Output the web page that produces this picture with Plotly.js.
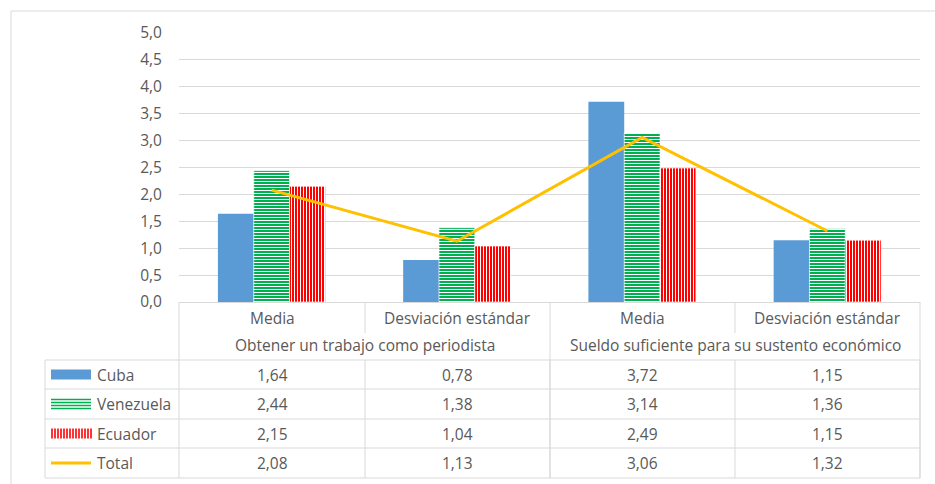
<!DOCTYPE html>
<html>
<head>
<meta charset="utf-8">
<script src="https://cdn.plot.ly/plotly-3.0.1.min.js"></script>
<style>html,body{margin:0;padding:0;background:#fff;}#chart{width:935px;height:484px;}</style>
</head>
<body>
<div id="chart"></div>
<script>
// ---- data ----
const categories = ["Media", "Desviación estándar", "Media", "Desviación estándar"];
const groups = ["Obtener un trabajo como periodista", "Sueldo suficiente para su sustento económico"];
const seriesNames = ["Cuba", "Venezuela", "Ecuador", "Total"];
const cuba = [1.64, 0.78, 3.72, 1.15];
const venezuela = [2.44, 1.38, 3.14, 1.36];
const ecuador = [2.15, 1.04, 2.49, 1.15];
const total = [2.08, 1.13, 3.06, 1.32];
const yTicks = [0, 0.5, 1, 1.5, 2, 2.5, 3, 3.5, 4, 4.5, 5];

// ---- layout geometry (pixels) ----
const W = 935, H = 484;
const L = 179, R = 920, T = 33, B = 302;
const px = x => (x - L) / (R - L);
const py = y => (B - y) / (B - T);
const FONT = "Open Sans, Liberation Sans, sans-serif";
const FS = 15.5;
const TXT = "#595959";
const GRID = "#d9d9d9";
const GREEN = "#00B050";
const RED = "#FF0000";

const xs = categories.map((c, i) => i);
const fmt = v => v.toFixed(2).replace('.', ',');

const traces = [
  {type: "bar", name: seriesNames[0], x: xs, y: cuba,
   marker: {color: "#5B9BD5", line: {width: 0}}},
  {type: "bar", name: seriesNames[1], x: xs, y: venezuela,
   marker: {color: GREEN, line: {width: 0.6, color: "#ffffff"},
            pattern: {shape: "-", fgcolor: "#ffffff", bgcolor: GREEN, fillmode: "replace", size: 3, solidity: 0.35}}},
  {type: "bar", name: seriesNames[2], x: xs, y: ecuador,
   marker: {color: RED, line: {width: 0.6, color: "#ffffff"},
            pattern: {shape: "|", fgcolor: "#ffffff", bgcolor: RED, fillmode: "replace", size: 3, solidity: 0.35}}},
  {type: "scatter", mode: "lines", name: seriesNames[3], x: xs, y: total,
   line: {color: "#FFC000", width: 3}}
];

const shapes = [];
const annotations = [];
const line = (x0, y0, x1, y1, color, w) => shapes.push({type: "line", xref: "paper", yref: "paper",
  x0: px(x0), y0: py(y0), x1: px(x1), y1: py(y1), line: {color: color || GRID, width: w || 1}});
const text = (x, y, s, anchor) => annotations.push({xref: "paper", yref: "paper", x: px(x), y: py(y),
  text: s, showarrow: false, xanchor: anchor || "center", yanchor: "middle",
  font: {family: FONT, size: FS, color: TXT}});

// outer chart border
line(11, 11, 935, 11, GRID);
line(11, 11, 11, 484, GRID);

// table geometry
const colX = [179, 365, 550, 735, 920];
const rowY = [360, 389, 419, 448, 478];
const tableLeft = 45;

// header
line(179, 302, 179, 360);
line(920, 302, 920, 478);
line(365, 302, 365, 333);
line(735, 302, 735, 333);
line(550, 302, 550, 478);
categories.forEach((c, i) => text((colX[i] + colX[i + 1]) / 2, 318, c));
groups.forEach((g, i) => text((colX[2 * i] + colX[2 * i + 2]) / 2, 345, g));

// rows
rowY.forEach(y => line(tableLeft, y, 920, y));
line(tableLeft, 360, tableLeft, 478);
colX.forEach(x => line(x, 360, x, 478));

const rowsData = [cuba, venezuela, ecuador, total];
rowsData.forEach((arr, r) => {
  const cy = (rowY[r] + rowY[r + 1]) / 2;
  text(95, cy, seriesNames[r], "left");
  arr.forEach((v, i) => text((colX[i] + colX[i + 1]) / 2, cy, fmt(v)));
});

// legend keys
const kx0 = 51, kx1 = 91;
{
  const cy = (rowY[0] + rowY[1]) / 2;
  shapes.push({type: "rect", xref: "paper", yref: "paper", x0: px(kx0), x1: px(kx1), y0: py(cy + 5), y1: py(cy - 5),
    fillcolor: "#5B9BD5", line: {width: 0}});
}
{
  const cy = (rowY[1] + rowY[2]) / 2;
  for (let k = -4.5; k <= 4.5; k += 3) line(kx0, cy + k, kx1, cy + k, GREEN, 1.6);
}
{
  const cy = (rowY[2] + rowY[3]) / 2;
  for (let x = kx0 + 1; x <= kx1; x += 3) line(x, cy - 5, x, cy + 5, RED, 1.6);
}
{
  const cy = (rowY[3] + rowY[4]) / 2;
  line(kx0, cy, kx1, cy, "#FFC000", 3);
}

const layout = {
  width: W, height: H,
  margin: {l: L, r: W - R, t: T, b: H - B, pad: 0},
  paper_bgcolor: "#ffffff", plot_bgcolor: "#ffffff",
  separators: ", ",
  showlegend: false,
  barmode: "group",
  bargap: 0.42,
  bargroupgap: 0,
  font: {family: FONT, color: TXT, size: FS},
  xaxis: {range: [-0.5, 3.5], showticklabels: false, showgrid: false, zeroline: false,
          showline: true, linecolor: GRID, linewidth: 1, fixedrange: true},
  yaxis: {range: [0, 5], tickvals: yTicks, tickformat: ".1f", showgrid: true, gridcolor: GRID, gridwidth: 1,
          zeroline: false, showline: false, ticks: "", ticklabelstandoff: 16,
          tickfont: {family: FONT, size: FS, color: TXT}, fixedrange: true},
  shapes: shapes,
  annotations: annotations
};

Plotly.newPlot("chart", traces, layout, {displayModeBar: false, staticPlot: true});
</script>
</body>
</html>
